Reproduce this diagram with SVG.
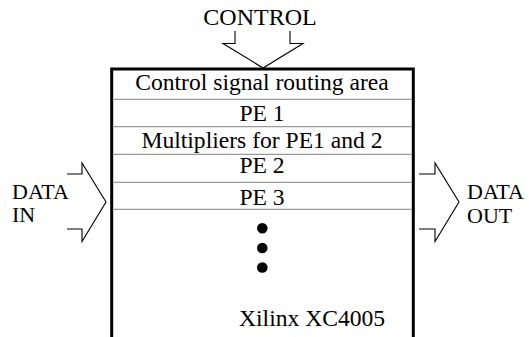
<svg xmlns="http://www.w3.org/2000/svg" width="529" height="337" viewBox="0 0 529 337">
  <style>
    .lbl { font-size: 23.6px; fill: #000; }
    .ctl { font-size: 24px; fill: #000; }
    .side { font-size: 22px; fill: #000; }
    .mid { text-anchor: middle; }
    .frame { fill: none; stroke: #000; stroke-width: 3; }
    .sep { stroke: #9a9a9a; stroke-width: 1.2; }
    .arrow { fill: none; stroke: #000; stroke-width: 1.1; stroke-linejoin: miter; }
  </style>

  <rect width="529" height="337" fill="#fff"/>

  <!-- FPGA chip: open-bottom frame with stacked regions -->
  <g id="chip">
    <path class="frame" d="M111.7,337 V69 H413.3 V337"/>
    <line class="sep" x1="113" y1="99.3" x2="412" y2="99.3"/>
    <line class="sep" x1="113" y1="126.7" x2="412" y2="126.7"/>
    <line class="sep" x1="113" y1="154.3" x2="412" y2="154.3"/>
    <line class="sep" x1="113" y1="182.3" x2="412" y2="182.3"/>
    <line class="sep" x1="113" y1="209.3" x2="412" y2="209.3"/>
  </g>

  <g font-family="Liberation Serif, DejaVu Serif, serif">
    <g id="routing-area">
      <text class="lbl mid" x="262" y="90">Control signal routing area</text>
    </g>
    <g id="pe1">
      <text class="lbl mid" x="262" y="120.5">PE 1</text>
    </g>
    <g id="multipliers">
      <text class="lbl mid" x="262" y="148">Multipliers for PE1 and 2</text>
    </g>
    <g id="pe2">
      <text class="lbl mid" x="262" y="173">PE 2</text>
    </g>
    <g id="pe3">
      <text class="lbl mid" x="262" y="205">PE 3</text>
    </g>
    <g id="device-name">
      <text class="lbl" x="239" y="325.5">Xilinx XC4005</text>
    </g>

    <!-- external signal labels -->
    <g id="control-label">
      <text class="ctl mid" x="260" y="25">CONTROL</text>
    </g>
    <g id="data-in-label">
      <text class="side" x="12" y="199">DATA</text>
      <text class="side" x="12" y="221.5">IN</text>
    </g>
    <g id="data-out-label">
      <text class="side" x="467" y="199">DATA</text>
      <text class="side" x="467" y="222.5">OUT</text>
    </g>
  </g>

  <g id="ellipsis">
    <circle cx="262.3" cy="228.3" r="5.3"/>
    <circle cx="262.3" cy="248" r="5.3"/>
    <circle cx="262.3" cy="267.5" r="5.3"/>
  </g>

  <!-- block arrows feeding and leaving the chip -->
  <g id="connectors">
    <path class="arrow" d="M235,31 V43.5 H223 L263,68 L303,43.5 H290 V31"/>
    <path class="arrow" d="M67,174 H82 V163 L106,202 L82,241.5 V229 H67"/>
    <path class="arrow" d="M419,174 H435 V163 L459,202 L435,241.5 V229 H419"/>
  </g>
</svg>
